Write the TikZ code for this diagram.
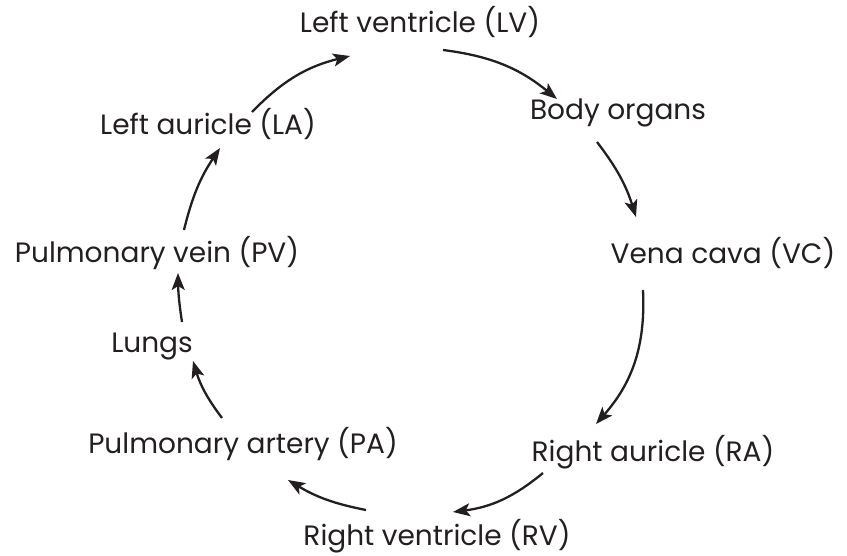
\documentclass[tikz,border=0pt]{standalone}
\usepackage{fontspec}
\setmainfont{Poppins}
\usepackage{xcolor}
\usetikzlibrary{arrows.meta}
\definecolor{ink}{HTML}{231F20}
\tikzset{
  stage/.style={text=ink, font=\fontsize{28}{32}\selectfont, inner sep=0pt, anchor=base},
  flow/.style={draw=ink, line width=2.3pt, -{Stealth[length=17pt,width=13pt,inset=4pt]}}
}
\begin{document}
\begin{tikzpicture}[x=1pt,y=-1pt]
  \useasboundingbox (0,0) rectangle (847,556);

  \node[stage] (lv) at (420,33)  {Left ventricle (LV)};
  \node[stage] (bo) at (618,120) {Body organs};
  \node[stage] (vc) at (723,264) {Vena cava (VC)};
  \node[stage] (ra) at (653,461) {Right auricle (RA)};
  \node[stage] (rv) at (437,545) {Right ventricle (RV)};
  \node[stage] (pa) at (243,453) {Pulmonary artery (PA)};
  \node[stage] (lu) at (152,353) {Lungs};
  \node[stage] (pv) at (157,263) {Pulmonary vein (PV)};
  \node[stage] (la) at (208,135) {Left auricle (LA)};

  % the loop, clockwise from the left ventricle
  \draw[flow] ([shift={(23,17)}]lv.base) to[bend left=16] ([shift={(-61,-21)}]bo.base);
  \draw[flow] ([shift={(-21,22)}]bo.base) to[bend left=10] ([shift={(-87,-47)}]vc.base);
  \draw[flow] ([shift={(-80,26)}]vc.base) to[bend left=22] ([shift={(-57,-37)}]ra.base);
  \draw[flow] ([shift={(-110,12)}]ra.base) to[bend left=16] ([shift={(16,-33)}]rv.base);
  \draw[flow] ([shift={(-71,-35)}]rv.base) to[bend left=10] ([shift={(45,27)}]pa.base);
  \draw[flow] ([shift={(-21,-35)}]pa.base) to[bend left=10] ([shift={(41,8)}]lu.base);
  \draw[flow] ([shift={(30,-31)}]lu.base) to[bend left=4] ([shift={(21,10)}]pv.base);
  \draw[flow] ([shift={(27,-33)}]pv.base) to[bend left=10] ([shift={(12,13)}]la.base);
  \draw[flow] ([shift={(44,-23)}]la.base) to[bend left=16] ([shift={(-70,23)}]lv.base);
\end{tikzpicture}
\end{document}
